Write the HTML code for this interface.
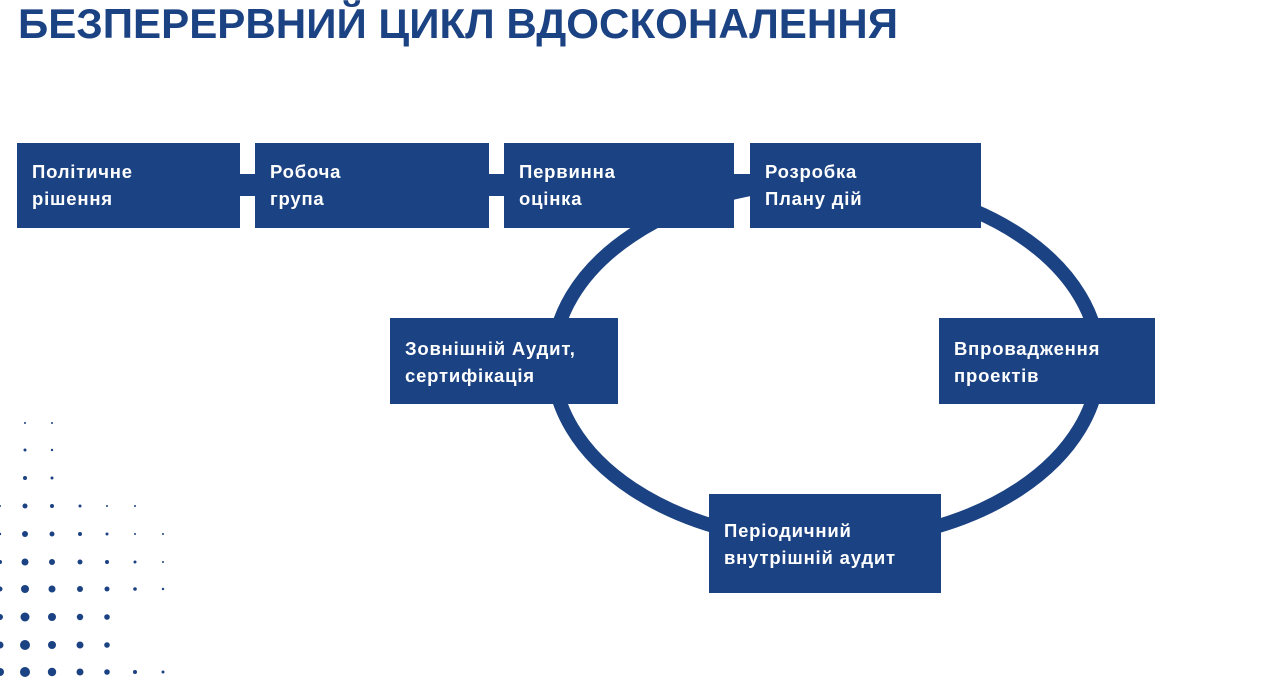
<!DOCTYPE html>
<html><head><meta charset="utf-8"><style>
html,body{margin:0;padding:0;background:#fff;}
svg{display:block;}
text{font-family:"Liberation Sans","DejaVu Sans",sans-serif;font-weight:bold;}
</style></head><body>
<svg width="1280" height="693" viewBox="0 0 1280 693" xmlns="http://www.w3.org/2000/svg">
<text x="18" y="38" font-size="42" fill="#1b4282" textLength="880" lengthAdjust="spacingAndGlyphs">БЕЗПЕРЕРВНИЙ ЦИКЛ ВДОСКОНАЛЕННЯ</text>
<ellipse cx="826" cy="362" rx="273" ry="180" fill="none" stroke="#1b4282" stroke-width="14"/>
<g fill="#1b4282">
<rect x="17" y="143" width="223" height="85"/>
<rect x="255" y="143" width="234" height="85"/>
<rect x="504" y="143" width="230" height="85"/>
<rect x="750" y="143" width="231" height="85"/>
<rect x="238" y="174" width="20" height="22"/>
<rect x="487" y="174" width="20" height="22"/>
<rect x="732" y="174" width="20" height="22"/>
<rect x="390" y="318" width="228" height="86"/>
<rect x="939" y="318" width="216" height="86"/>
<rect x="709" y="494" width="232" height="99"/>
</g>
<g fill="#fff" font-size="18.5" letter-spacing="0.8">
<text x="32" y="178">Політичне</text><text x="32" y="205">рішення</text>
<text x="270" y="178">Робоча</text><text x="270" y="205">група</text>
<text x="519" y="178">Первинна</text><text x="519" y="205">оцінка</text>
<text x="765" y="178">Розробка</text><text x="765" y="205">Плану дій</text>
<text x="405" y="355">Зовнішній Аудит,</text><text x="405" y="382">сертифікація</text>
<text x="954" y="355">Впровадження</text><text x="954" y="382">проектів</text>
<text x="724" y="537">Періодичний</text><text x="724" y="564">внутрішній аудит</text>
</g>
<g fill="#1b4282">
<circle cx="25" cy="423" r="1"/><circle cx="52" cy="423" r="1"/>
<circle cx="25" cy="450" r="1.5"/><circle cx="52" cy="450" r="1.2"/>
<circle cx="25" cy="478" r="2"/><circle cx="52" cy="478" r="1.5"/>
<circle cx="0" cy="506" r="1"/><circle cx="25" cy="506" r="2.5"/><circle cx="52" cy="506" r="2"/><circle cx="80" cy="506" r="1.5"/><circle cx="107" cy="506" r="1"/><circle cx="135" cy="506" r="1"/>
<circle cx="0" cy="534" r="1.2"/><circle cx="25" cy="534" r="3"/><circle cx="52" cy="534" r="2.5"/><circle cx="80" cy="534" r="2"/><circle cx="107" cy="534" r="1.5"/><circle cx="135" cy="534" r="1"/><circle cx="163" cy="534" r="1"/>
<circle cx="0" cy="562" r="2"/><circle cx="25" cy="562" r="3.5"/><circle cx="52" cy="562" r="3"/><circle cx="80" cy="562" r="2.5"/><circle cx="107" cy="562" r="2"/><circle cx="135" cy="562" r="1.5"/><circle cx="163" cy="562" r="1"/>
<circle cx="0" cy="589" r="2.5"/><circle cx="25" cy="589" r="4"/><circle cx="52" cy="589" r="3.5"/><circle cx="80" cy="589" r="3"/><circle cx="107" cy="589" r="2.5"/><circle cx="135" cy="589" r="1.8"/><circle cx="163" cy="589" r="1.2"/>
<circle cx="0" cy="617" r="3"/><circle cx="25" cy="617" r="4.5"/><circle cx="52" cy="617" r="4"/><circle cx="80" cy="617" r="3.2"/><circle cx="107" cy="617" r="2.8"/>
<circle cx="0" cy="645" r="3.5"/><circle cx="25" cy="645" r="5"/><circle cx="52" cy="645" r="4"/><circle cx="80" cy="645" r="3.5"/><circle cx="107" cy="645" r="2.8"/>
<circle cx="0" cy="672" r="4"/><circle cx="25" cy="672" r="5"/><circle cx="52" cy="672" r="4.2"/><circle cx="80" cy="672" r="3.5"/><circle cx="107" cy="672" r="2.8"/><circle cx="135" cy="672" r="2"/><circle cx="163" cy="672" r="1.5"/>
</g>
</svg>
</body></html>
